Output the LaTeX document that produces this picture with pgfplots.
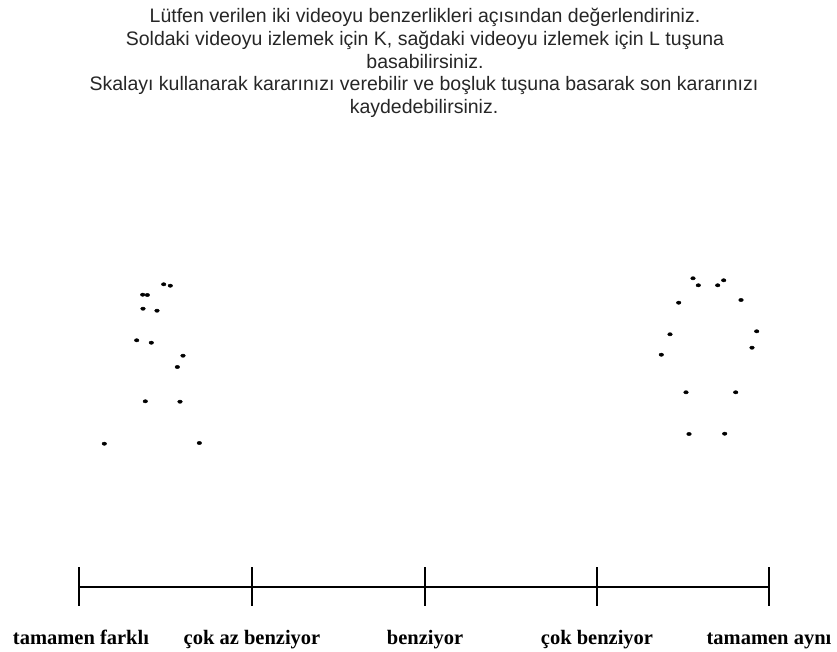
\documentclass[border=0pt]{standalone}
\usepackage{pgfplots}
\pgfplotsset{compat=1.18}
\usepackage{fontspec}
\setmainfont{Liberation Sans}
\newfontfamily\serifb{Liberation Serif}
\begin{document}
\begin{tikzpicture}[x=1pt,y=1pt]
\path[use as bounding box] (0pt,0pt) rectangle (837pt,652pt);
\begin{axis}[
  at={(0pt,0pt)}, anchor=south west,
  width=837pt, height=652pt, scale only axis,
  xmin=0, xmax=837, ymin=0, ymax=652, y dir=reverse,
  hide axis, clip=false,
]
% left cluster
\addplot[only marks, mark=*, mark size=2.3pt, mark options={yscale=0.72}, black] coordinates {
(163.7,284.3) (170.3,285.7) (142.7,294.7) (147.3,295.0) (143.0,308.7) (157.0,310.7)
(136.7,340.3) (151.3,342.7) (183.0,355.7) (177.3,367.0) (145.3,401.3) (180.0,401.7)
(104.3,443.7) (199.3,443.0)
};
% right cluster
\addplot[only marks, mark=*, mark size=2.3pt, mark options={yscale=0.72}, black] coordinates {
(693.0,278.3) (698.3,285.3) (723.7,280.3) (717.7,285.3) (678.7,302.7) (741.0,300.0)
(670.0,334.3) (756.7,331.3) (661.3,354.7) (752.0,347.7) (686.0,392.3) (735.7,392.3)
(689.0,434.0) (724.7,433.7)
};
% scale line
\addplot[black, line width=2pt] coordinates {(79,586.5) (769,586.5)};
\addplot[black, line width=2pt] coordinates {(79,567) (79,606)};
\addplot[black, line width=2pt] coordinates {(252,567) (252,606)};
\addplot[black, line width=2pt] coordinates {(425,567) (425,606)};
\addplot[black, line width=2pt] coordinates {(597,567) (597,606)};
\addplot[black, line width=2pt] coordinates {(769,567) (769,606)};
% labels
\node[anchor=base, font=\serifb\bfseries\fontsize{20.5}{24}\selectfont] at (axis cs:81,644) {tamamen farklı};
\node[anchor=base, font=\serifb\bfseries\fontsize{20.5}{24}\selectfont] at (axis cs:252,644) {çok az benziyor};
\node[anchor=base, font=\serifb\bfseries\fontsize{20.5}{24}\selectfont] at (axis cs:425,644) {benziyor};
\node[anchor=base, font=\serifb\bfseries\fontsize{20.5}{24}\selectfont] at (axis cs:597,644) {çok benziyor};
\node[anchor=base, font=\serifb\bfseries\fontsize{20.5}{24}\selectfont] at (axis cs:769,644) {tamamen aynı};
% instructions
\node[anchor=base, text=black!85, font=\fontsize{19.5}{22}\selectfont] at (axis cs:425,23) {Lütfen verilen iki videoyu benzerlikleri açısından değerlendiriniz.};
\node[anchor=base, text=black!85, font=\fontsize{19.5}{22}\selectfont] at (axis cs:425,45.7) {Soldaki videoyu izlemek için K, sağdaki videoyu izlemek için L tuşuna};
\node[anchor=base, text=black!85, font=\fontsize{19.5}{22}\selectfont] at (axis cs:425,68.3) {basabilirsiniz.};
\node[anchor=base, text=black!85, font=\fontsize{19.5}{22}\selectfont] at (axis cs:424,91) {Skalayı kullanarak kararınızı verebilir ve boşluk tuşuna basarak son kararınızı};
\node[anchor=base, text=black!85, font=\fontsize{19.5}{22}\selectfont] at (axis cs:424,113.7) {kaydedebilirsiniz.};
\end{axis}
\end{tikzpicture}
\end{document}
